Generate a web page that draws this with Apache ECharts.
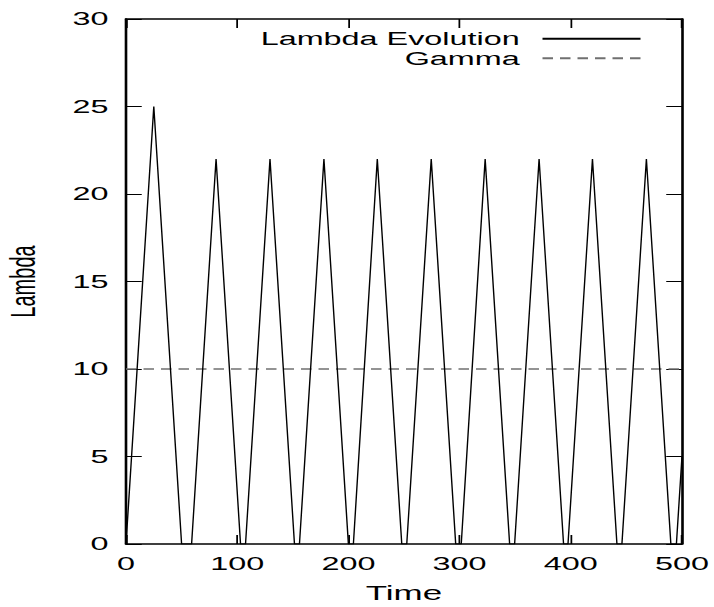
<!DOCTYPE html>
<html><head><meta charset="utf-8">
<script src="https://cdn.jsdelivr.net/npm/echarts@6/dist/echarts.min.js"></script>
<style>
html,body{margin:0;padding:0;background:#fff;overflow:hidden;width:714px;height:607px}
#chart{width:408px;height:607px;transform:scaleX(1.75);transform-origin:0 0}
</style></head><body><div id="chart"></div>
<script>
// ---- data ----
const timeValues   = [0, 25, 50, 59, 81, 103, 107.5, 129.5, 151.5, 156, 178, 200, 204.5, 226, 248, 252.5, 274.5, 296.5, 301.5, 323, 345, 349.5, 371.5, 393.5, 397.5, 419.5, 441.5, 446, 468, 490, 495, 500];
const lambdaValues = [0, 25, 0,  0,  22, 0,   0,     22,    0,     0,   22,  0,   0,     22,  0,   0,     22,    0,     0,     22,  0,   0,     22,    0,     0,     22,    0,     0,   22,  0,   0,   5];
const gammaTimes   = [0, 500];
const gammaValues  = [10, 10];
const xTickValues  = [0, 100, 200, 300, 400, 500];
const yTickValues  = [0, 5, 10, 15, 20, 25, 30];
const seriesNames  = ['Lambda Evolution', 'Gamma'];
const xAxisTitle   = 'Time';
const yAxisTitle   = 'Lambda';

const FONT = 'Liberation Sans';
const xStep = xTickValues[1] - xTickValues[0];
const yStep = yTickValues[1] - yTickValues[0];

const chart = echarts.init(document.getElementById('chart'), null, {renderer: 'svg'});

const border = {show: true, onZero: false, lineStyle: {color: '#000', width: 1.5}};
const ticks = {show: true, inside: true, length: 9, lineStyle: {color: '#000', width: 1}};

chart.setOption({
  animation: false,
  backgroundColor: '#fff',
  grid: {left: 72, right: 18.3, top: 19, bottom: 63, containLabel: false, outerBoundsMode: 'none'},
  legend: {
    data: seriesNames,
    orient: 'vertical',
    align: 'right',
    right: 41,
    top: 29,
    padding: 0,
    itemGap: 0,
    itemWidth: 56,
    itemHeight: 10,
    itemStyle: {opacity: 0, borderWidth: 0},
    textStyle: {fontFamily: FONT, fontSize: 18.5, color: '#000', lineHeight: 19.5, padding: [0, 8, 0, 0]}
  },
  xAxis: [{
    type: 'value', position: 'bottom',
    min: xTickValues[0], max: xTickValues[xTickValues.length - 1], interval: xStep,
    name: xAxisTitle, nameLocation: 'middle', nameGap: 39,
    nameTextStyle: {fontFamily: FONT, fontSize: 20, color: '#000'},
    axisLine: border, axisTick: ticks,
    axisLabel: {fontFamily: FONT, fontSize: 18.5, color: '#000', margin: 10},
    splitLine: {show: false}
  }, {
    type: 'value', position: 'top',
    min: xTickValues[0], max: xTickValues[xTickValues.length - 1], interval: xStep,
    axisLine: border, axisTick: ticks, axisLabel: {show: false}, splitLine: {show: false}
  }],
  yAxis: [{
    type: 'value', position: 'left',
    min: yTickValues[0], max: yTickValues[yTickValues.length - 1], interval: yStep,
    name: yAxisTitle, nameLocation: 'middle', nameGap: 49, nameRotate: 90,
    nameTextStyle: {fontFamily: FONT, fontSize: 20, color: '#000'},
    axisLine: border, axisTick: ticks,
    axisLabel: {fontFamily: FONT, fontSize: 18.5, color: '#000', margin: 10},
    splitLine: {show: false}
  }, {
    type: 'value', position: 'right',
    min: yTickValues[0], max: yTickValues[yTickValues.length - 1], interval: yStep,
    axisLine: border, axisTick: ticks, axisLabel: {show: false}, splitLine: {show: false}
  }],
  series: [{
    name: seriesNames[0], type: 'line', xAxisIndex: 0, yAxisIndex: 0,
    data: timeValues.map((t, i) => [t, lambdaValues[i]]),
    symbol: 'none', z: 3,
    lineStyle: {color: '#000', width: 0.8}, itemStyle: {color: '#000'}
  }, {
    name: seriesNames[1], type: 'line', xAxisIndex: 0, yAxisIndex: 0,
    data: gammaTimes.map((t, i) => [t, gammaValues[i]]),
    symbol: 'none', z: 2,
    lineStyle: {color: '#707070', width: 1.3, type: [6, 4]}, itemStyle: {color: '#707070'}
  }]
});
</script></body></html>
